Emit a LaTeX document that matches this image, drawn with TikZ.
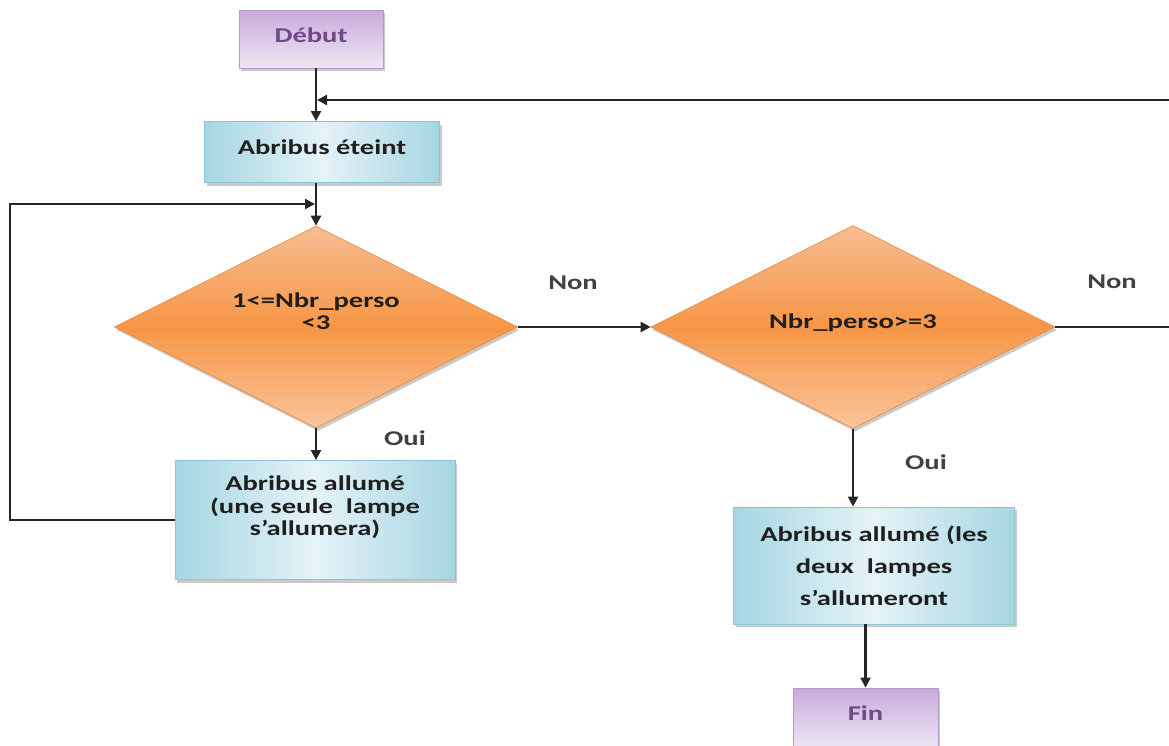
\documentclass[tikz,border=0pt]{standalone}
\usepackage{fontspec}
\setmainfont{Carlito}[FakeStretch=1.36]
\usetikzlibrary{shapes.geometric,shadows,arrows.meta}
\definecolor{purpA}{HTML}{C9AADB}
\definecolor{purpB}{HTML}{EEE6F3}
\definecolor{purpBorder}{HTML}{B49AC6}
\definecolor{purpText}{HTML}{6E4A86}
\definecolor{blueA}{HTML}{A6D6E3}
\definecolor{blueB}{HTML}{E4F3F7}
\definecolor{blueBorder}{HTML}{8CC6D6}
\definecolor{orA}{HTML}{F6BD92}
\definecolor{orB}{HTML}{F79646}
\definecolor{orC}{HTML}{F9C49C}
\definecolor{orBorder}{HTML}{E8873A}
\definecolor{txt}{HTML}{1F1F1F}
\definecolor{lineC}{HTML}{262626}
% #1 lift, #2 baselineskip, #3 box width, #4 lines
\newcommand\liftxt[4]{\raisebox{0pt}[\height][\dimexpr\depth+#1+#1\relax]{\parbox[c]{#3}{\centering\baselineskip=#2\relax #4\par}}}
\tikzset{
  base/.style={font=\fontsize{21}{22.5}\selectfont\bfseries, inner sep=0pt,
    drop shadow={shadow xshift=2pt, shadow yshift=-3pt, opacity=0.35, fill=black!60}},
  termbox/.style={base, draw=purpBorder, line width=0.8pt, left color=purpA, right color=purpB,
    shading angle=0, text=purpText},
  procbox/.style={base, draw=blueBorder, line width=0.8pt, left color=blueA, right color=blueA,
    middle color=blueB, text=txt},
  decbox/.style={base, diamond, aspect=2, draw=orBorder, line width=0.6pt, top color=orA, bottom color=orC,
    middle color=orB, text=txt},
  lbl/.style={font=\fontsize{21}{23.5}\selectfont\bfseries, text=txt!85, inner sep=0pt},
  arr/.style={draw=lineC, line width=2.2pt, -{Triangle[length=10pt,width=10pt]}},
  ln/.style={draw=lineC, line width=2.2pt}
}
\begin{document}
\begin{tikzpicture}[x=1pt,y=-1pt]
\useasboundingbox (0,0) rectangle (1169,745);
\node[termbox, minimum width=144pt, minimum height=58pt] (debut) at (311,39)
  {\liftxt{4pt}{22.5pt}{130pt}{Début}};
\node[procbox, minimum width=235pt, minimum height=61pt] (eteint) at (322,152)
  {\liftxt{5pt}{22.5pt}{220pt}{Abribus éteint}};
\node[decbox, minimum width=403pt, minimum height=202pt] (d1) at (316,327)
  {\liftxt{16pt}{22pt}{200pt}{1<=Nbr\_perso\\<3}};
\node[procbox, minimum width=280pt, minimum height=119pt] (une) at (315,520)
  {\liftxt{12.5pt}{22.5pt}{266pt}{Abribus allumé\\(une seule\ \ lampe\\s’allumera)}};
\node[decbox, minimum width=404pt, minimum height=203pt] (d2) at (853,327)
  {\liftxt{4pt}{22pt}{200pt}{Nbr\_perso>=3}};
\node[procbox, minimum width=281pt, minimum height=117pt] (deux) at (874,565.5)
  {\liftxt{0pt}{32pt}{266pt}{Abribus allumé (les\\deux\ \ lampes\\s’allumeront}};
\node[termbox, minimum width=145pt, minimum height=60pt] (fin) at (865.5,718)
  {\liftxt{5pt}{22.5pt}{130pt}{Fin}};

\node[lbl] (non1) at (573,283) {Non};
\node[lbl] (oui1) at (405,438) {Oui};
\node[lbl] (non2) at (1112,282) {Non};
\node[lbl] (oui2) at (926,462) {Oui};

\coordinate (r1) at (1169,100);
\coordinate (r2) at (1169,327);
\coordinate (l1) at (10,204);

\draw[arr] (debut.south -| d1.north) -- (eteint.north -| d1.north);
\draw[arr] (r1) -- ([xshift=1pt]r1 -| d1.north);
\draw[arr] (eteint.south -| d1.north) -- (d1.north);
\draw[arr] (une.west) -| (l1) -- ([xshift=-1pt]l1 -| d1.north);
\draw[arr] (d1.south) -- (une.north -| d1.south);
\draw[arr] (d1.east) -- (d2.west);
\draw[ln] (d2.east) -- (r2);
\draw[arr] (d2.south) -- (deux.north -| d2.south);
\draw[arr] (deux.south -| fin.north) -- (fin.north);
\end{tikzpicture}
\end{document}
